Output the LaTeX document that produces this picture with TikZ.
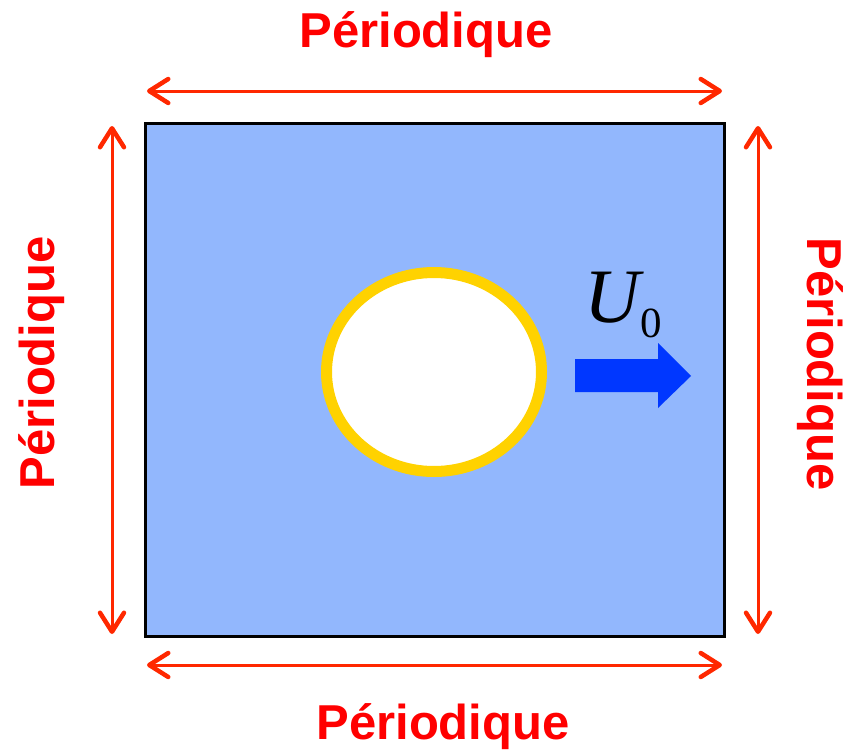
\documentclass[tikz,border=0pt]{standalone}
\usepackage{fontspec}
\setmainfont{Liberation Sans}
\newfontfamily\timesfont{Liberation Serif}
\usetikzlibrary{arrows.meta}
\definecolor{fondbleu}{RGB}{146,183,253}
\definecolor{rougeper}{RGB}{255,40,0}
\definecolor{jaunebord}{RGB}{255,210,0}
\definecolor{bleufleche}{RGB}{0,55,255}
\tikzset{
  per/.style={draw=rougeper, line width=3pt,
    {Straight Barb[length=19pt,width=24pt,line width=4.5pt,round]}-{Straight Barb[length=19pt,width=24pt,line width=4.5pt,round]}},
  pertext/.style={text=red, font=\fontsize{49}{49}\selectfont\bfseries}
}
\begin{document}
\begin{tikzpicture}[x=1pt,y=-1pt]
            \useasboundingbox (0,0) rectangle (854,755);
            % Les coins du domaine
            \coordinate (A) at (145,123);
            \coordinate (B) at (724,123);
            \coordinate (C) at (724,636);
            \coordinate (D) at (145,636);
            % Le centre du cylindre
            \coordinate (O) at (434,372);
            % Les extremites des fleches
            \coordinate (H1) at (147,91);
            \coordinate (H2) at (722,91);
            \coordinate (K1) at (147,665);
            \coordinate (K2) at (722,665);
            \coordinate (G1) at (112,634);
            \coordinate (G2) at (112,126);
            \coordinate (R1) at (758,126);
            \coordinate (R2) at (758,634);
            % Le domaine
            \filldraw[fill=fondbleu, draw=black, line width=3pt] (A) -- (B) -- (C) -- (D) -- cycle;
            % Le cylindre
            \filldraw[fill=white, draw=jaunebord, line width=11pt] (O) ellipse (107.5 and 99.5);
            % Fleches periodiques
            \draw[per] (H1) -- (H2);
            \draw[per] (K1) -- (K2);
            \draw[per] (G1) -- (G2);
            \draw[per] (R1) -- (R2);
            % Nom des bords
            \node[pertext] (th) at (426,35) {Périodique};
            \node[pertext] (tb) at (443,727) {Périodique};
            \node[pertext, rotate=90] (tg) at (42,363) {Périodique};
            \node[pertext, rotate=-90] (td) at (820,364) {Périodique};
            % Vitesse U_0
            \fill[bleufleche] (575,359) -- (658,359) -- (658,343) -- (691,376) -- (658,408) -- (658,392) -- (575,392) -- cycle;
            \node[anchor=base west, inner sep=0pt, font=\timesfont\fontsize{77}{77}\selectfont] (u) at (584,322)
              {\itshape U\upshape\hspace{1pt}\raisebox{-15pt}{\fontsize{43}{43}\selectfont 0}};
        \end{tikzpicture}
\end{document}
